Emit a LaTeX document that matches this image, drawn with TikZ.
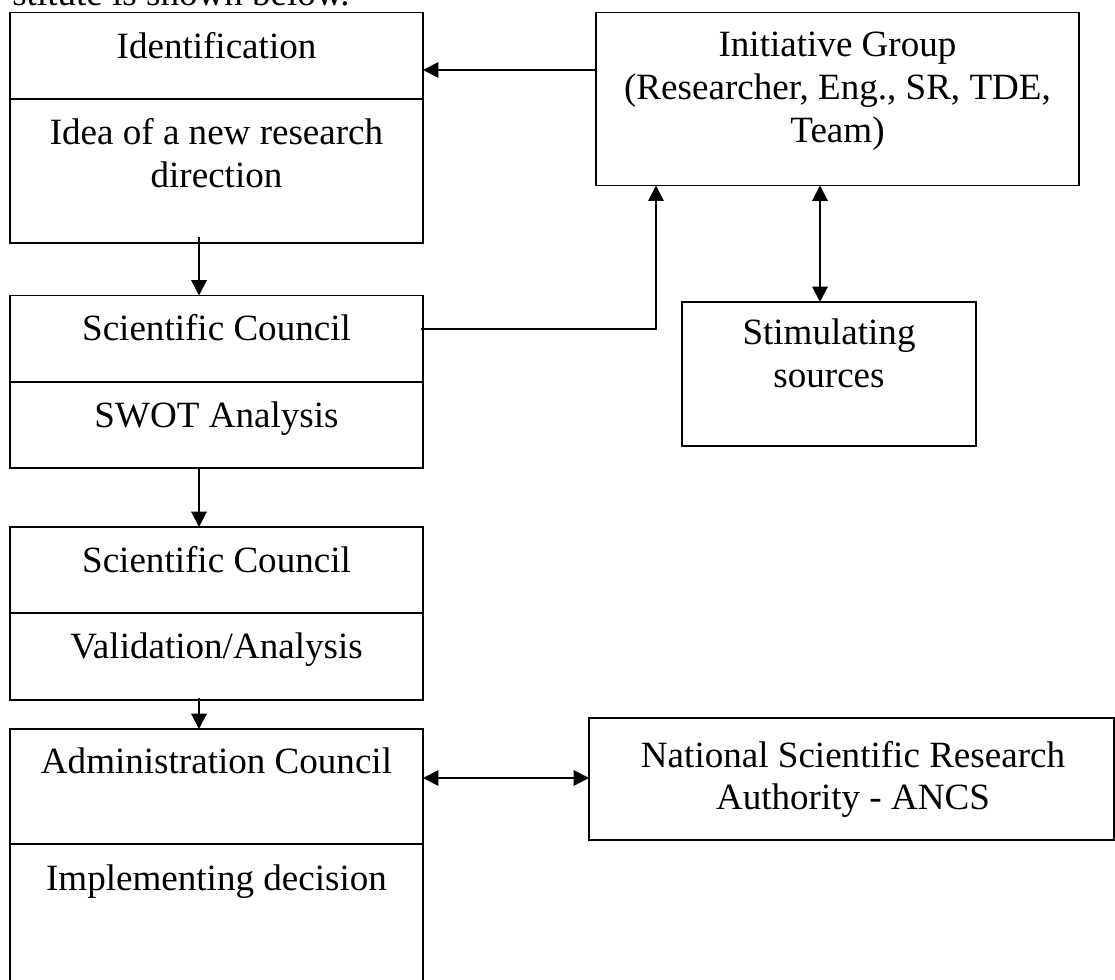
\documentclass[tikz,border=0pt]{standalone}
\usepackage{fontspec}
\setmainfont{Liberation Serif}
\usetikzlibrary{arrows.meta,calc}
\begin{document}
\begin{tikzpicture}[x=0.75pt,y=-0.75pt,
  box/.style={draw, line width=1pt, inner sep=0pt, outer sep=0pt},
  lbox/.style={box, minimum width=309.75pt},
  lbl/.style={anchor=base, inner sep=0pt, font=\fontsize{27.8}{32}\selectfont},
  tip/.tip={Triangle[length=11.5pt,width=11.5pt]},
  arr/.style={line width=1.5pt, -tip},
  darr/.style={line width=1.5pt, tip-tip},
  linkline/.style={line width=1.1pt, -tip}
]
\useasboundingbox (0,0) rectangle (1115,980);
\clip (0,0) rectangle (1115,980);

% partially visible text at the top
\node[lbl, anchor=base west] (toptext) at (12,6) {stitute is shown below.};

% left column boxes
\node[lbox, minimum height=64.875pt] (b1a) at (216.5,55.75) {};
\node[lbox, minimum height=108pt]    (b1b) at (216.5,171) {};
\node[lbox, minimum height=64.875pt] (b2a) at (216.5,338.75) {};
\node[lbox, minimum height=64.5pt]   (b2b) at (216.5,425) {};
\node[lbox, minimum height=64.5pt]   (b3a) at (216.5,570) {};
\node[lbox, minimum height=65.25pt]  (b3b) at (216.5,656.5) {};
\node[lbox, minimum height=86.25pt]  (b4a) at (216.5,786.5) {};
\node[lbox, minimum height=109.5pt]  (b4b) at (216.5,917) {};

% right column boxes
\node[box, minimum width=362.25pt, minimum height=129.75pt] (init) at (837.5,99) {};
\node[box, minimum width=220.5pt, minimum height=108pt] (stim) at (829,374) {};
\node[box, minimum width=393.75pt, minimum height=91.5pt] (nsra) at (851.5,779) {};

% texts
\node[lbl] (t1a)  at (216.5,58.3)  {Identification};
\node[lbl] (t1b1) at (216.5,144.7) {Idea of a new research};
\node[lbl] (t1b2) at (216.5,187.7) {direction};
\node[lbl] (t2a)  at (216.5,341)   {Scientific Council};
\node[lbl] (t2b)  at (216.5,427.7) {SWOT Analysis};
\node[lbl] (t3a)  at (216.5,572.6) {Scientific Council};
\node[lbl] (t3b)  at (216.5,658.7) {Validation/Analysis};
\node[lbl] (t4a)  at (216.5,773)   {Administration Council};
\node[lbl] (t4b)  at (216.5,890)   {Implementing decision};

\node[lbl] (ti1) at (837.5,56.7)  {Initiative Group};
\node[lbl] (ti2) at (837.5,100)   {(Researcher, Eng., SR, TDE,};
\node[lbl] (ti3) at (837.5,142.7) {Team)};

\node[lbl] (ts1) at (829,345) {Stimulating};
\node[lbl] (ts2) at (829,388) {sources};

\node[lbl] (tn1) at (853,767) {National Scientific Research};
\node[lbl] (tn2) at (853,809) {Authority - ANCS};

% connectors
\draw[arr] (init.west |- 0,70) -- (b1a.east |- 0,70);
\draw[arr] ($(b1b.south -| 199,0)+(0,-6)$) -- (b2a.north -| 199,0);
\draw[arr] (b2b.south -| 199,0) -- (b3a.north -| 199,0);
\draw[arr] ($(b3b.south -| 199,0)+(0,-2)$) -- (b4a.north -| 199,0);
\draw[linkline] ($(b2a.east |- 0,329)+(-2,0)$) -| (init.south -| 656,0);
\draw[darr] (init.south -| 820,0) -- (stim.north -| 820,0);
\draw[darr] (b4a.east |- 0,778) -- (nsra.west |- 0,778);
\end{tikzpicture}
\end{document}
